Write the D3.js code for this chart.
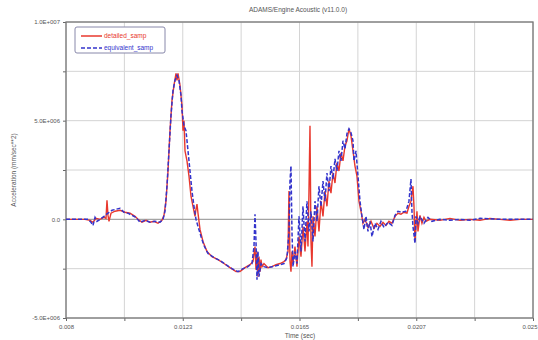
<!DOCTYPE html>
<html>
<head>
<meta charset="utf-8">
<script src="https://cdn.jsdelivr.net/npm/d3@7"></script>
<style>
  body { margin: 0; background: #fff; }
  text { font-family: "Liberation Sans", Arial, sans-serif; }
</style>
</head>
<body>
<script>
// time (sec), acceleration (mm/sec**2)
const detailedSamp = [
  [0.008000, 0], [0.008692, 0], [0.008874, -0.05e6], [0.008983, -0.15e6], [0.009092, 0.05e6],
  [0.009238, 0], [0.009383, 0.10e6], [0.009456, 0.05e6], [0.009492, 0.97e6], [0.009529, 0.20e6],
  [0.009565, -0.10e6], [0.009638, 0.31e6], [0.009784, 0.41e6], [0.009966, 0.46e6], [0.010148, 0.36e6],
  [0.010330, 0.31e6], [0.010512, 0.15e6], [0.010621, 0], [0.010766, -0.15e6], [0.010912, -0.05e6],
  [0.011058, -0.15e6], [0.011203, -0.10e6], [0.011349, -0.20e6], [0.011494, -0.05e6], [0.011567, 0.20e6],
  [0.011640, 0.92e6], [0.011713, 2.45e6], [0.011786, 4.49e6], [0.011858, 6.02e6], [0.011931, 6.79e6],
  [0.012004, 7.40e6], [0.012040, 7.04e6], [0.012077, 7.40e6], [0.012150, 6.79e6], [0.012222, 5.77e6],
  [0.012259, 4.49e6], [0.012295, 5.00e6], [0.012332, 3.47e6], [0.012404, 2.96e6], [0.012477, 2.19e6],
  [0.012550, 1.17e6], [0.012623, 0.66e6], [0.012696, 0.15e6], [0.012732, 0.51e6], [0.012768, 0.77e6],
  [0.012805, 0.31e6], [0.012878, -0.51e6], [0.012987, -1.12e6], [0.013132, -1.63e6], [0.013314, -1.89e6],
  [0.013533, -2.04e6], [0.013751, -2.24e6], [0.013970, -2.45e6], [0.014188, -2.65e6], [0.014334, -2.65e6],
  [0.014516, -2.45e6], [0.014698, -2.30e6], [0.014807, -2.14e6], [0.014880, -1.38e6], [0.014916, -2.55e6],
  [0.014952, -1.63e6], [0.014989, -2.91e6], [0.015025, -1.89e6], [0.015062, -2.65e6], [0.015098, -2.04e6],
  [0.015134, -2.40e6], [0.015207, -2.24e6], [0.015353, -2.45e6], [0.015498, -2.40e6], [0.015644, -2.30e6],
  [0.015790, -2.24e6], [0.015935, -2.14e6], [0.016008, -2.04e6], [0.016081, -1.63e6], [0.016117, 1.43e6],
  [0.016154, -2.14e6], [0.016190, -2.65e6], [0.016226, -1.63e6], [0.016263, -2.24e6], [0.016336, -1.38e6],
  [0.016408, -2.40e6], [0.016481, -0.87e6], [0.016554, -1.89e6], [0.016627, -0.36e6], [0.016700, -1.63e6],
  [0.016772, -0.10e6], [0.016809, -1.38e6], [0.016845, 1.43e6], [0.016882, 4.74e6], [0.016918, -1.12e6],
  [0.016954, -2.40e6], [0.016991, 0.15e6], [0.017064, -0.87e6], [0.017136, 0.66e6], [0.017209, -0.61e6],
  [0.017282, 0.92e6], [0.017355, 0.15e6], [0.017428, 1.43e6], [0.017500, 0.66e6], [0.017573, 1.94e6],
  [0.017646, 1.33e6], [0.017719, 2.35e6], [0.017792, 1.84e6], [0.017864, 2.86e6], [0.017937, 2.45e6],
  [0.018010, 3.37e6], [0.018083, 2.96e6], [0.018156, 3.72e6], [0.018228, 3.98e6], [0.018301, 4.59e6],
  [0.018374, 4.23e6], [0.018447, 3.47e6], [0.018520, 2.70e6], [0.018592, 2.19e6], [0.018665, 0.92e6],
  [0.018738, 0.41e6], [0.018811, -0.20e6], [0.018884, 0], [0.018993, -0.41e6], [0.019102, -0.10e6],
  [0.019211, -0.46e6], [0.019320, -0.20e6], [0.019430, -0.36e6], [0.019539, -0.15e6], [0.019648, -0.31e6],
  [0.019757, -0.10e6], [0.019866, -0.20e6], [0.019976, 0.15e6], [0.020085, 0.31e6], [0.020194, 0.26e6],
  [0.020303, 0.36e6], [0.020412, 0.31e6], [0.020485, 0.66e6], [0.020558, 0.92e6], [0.020631, 1.68e6],
  [0.020667, 0.66e6], [0.020704, -1.12e6], [0.020740, -0.36e6], [0.020776, 0.41e6], [0.020813, -0.61e6],
  [0.020886, 0.20e6], [0.020958, -0.20e6], [0.021031, 0.10e6], [0.021104, -0.10e6], [0.021250, 0],
  [0.021614, -0.05e6], [0.021978, 0.05e6], [0.022342, -0.05e6], [0.022706, 0], [0.023070, -0.05e6],
  [0.023434, 0.05e6], [0.023798, 0], [0.024162, -0.05e6], [0.024526, 0], [0.025000, 0]
];

const equivalentSamp = [
  [0.008000, 0], [0.008801, 0], [0.008910, -0.15e6], [0.008983, -0.31e6], [0.009056, 0.10e6],
  [0.009128, -0.10e6], [0.009238, 0], [0.009383, 0.15e6], [0.009529, 0.31e6], [0.009674, 0.46e6],
  [0.009820, 0.51e6], [0.009966, 0.56e6], [0.010111, 0.36e6], [0.010257, 0.31e6], [0.010402, 0.20e6],
  [0.010548, 0.10e6], [0.010694, -0.15e6], [0.010876, -0.05e6], [0.011058, -0.15e6], [0.011240, -0.10e6],
  [0.011422, -0.15e6], [0.011531, 0], [0.011604, 0.41e6], [0.011676, 1.68e6], [0.011749, 3.47e6],
  [0.011822, 5.26e6], [0.011895, 6.53e6], [0.011968, 7.04e6], [0.012040, 7.30e6], [0.012113, 7.04e6],
  [0.012186, 6.28e6], [0.012222, 5.51e6], [0.012295, 4.74e6], [0.012368, 4.49e6], [0.012441, 3.47e6],
  [0.012514, 2.45e6], [0.012586, 1.43e6], [0.012659, 0.66e6], [0.012732, 0], [0.012805, -0.36e6],
  [0.012914, -0.87e6], [0.013023, -1.33e6], [0.013169, -1.73e6], [0.013387, -1.94e6], [0.013606, -2.09e6],
  [0.013824, -2.30e6], [0.014042, -2.50e6], [0.014261, -2.65e6], [0.014443, -2.50e6], [0.014625, -2.40e6],
  [0.014770, -2.24e6], [0.014843, -1.38e6], [0.014880, 0.26e6], [0.014916, -1.12e6], [0.014952, -3.06e6],
  [0.014989, -1.63e6], [0.015025, -2.91e6], [0.015098, -2.24e6], [0.015207, -2.40e6], [0.015353, -2.45e6],
  [0.015498, -2.40e6], [0.015644, -2.35e6], [0.015790, -2.30e6], [0.015935, -2.24e6], [0.016044, -1.94e6],
  [0.016117, -0.61e6], [0.016154, 1.94e6], [0.016190, 2.70e6], [0.016226, -0.61e6], [0.016263, -2.40e6],
  [0.016336, -1.63e6], [0.016408, -2.24e6], [0.016481, 0.15e6], [0.016554, -1.63e6], [0.016627, 0.66e6],
  [0.016700, -1.12e6], [0.016772, 0.92e6], [0.016845, -0.61e6], [0.016918, 0.41e6], [0.016991, -1.12e6],
  [0.017064, 0.92e6], [0.017136, -0.10e6], [0.017209, 1.68e6], [0.017282, 0.66e6], [0.017355, 1.94e6],
  [0.017428, 0.92e6], [0.017500, 2.35e6], [0.017573, 1.43e6], [0.017646, 2.70e6], [0.017719, 2.04e6],
  [0.017792, 3.06e6], [0.017864, 2.45e6], [0.017937, 3.47e6], [0.018010, 2.96e6], [0.018083, 3.98e6],
  [0.018156, 3.57e6], [0.018228, 4.34e6], [0.018301, 4.59e6], [0.018374, 4.39e6], [0.018447, 3.98e6],
  [0.018483, 2.96e6], [0.018556, 3.47e6], [0.018629, 2.19e6], [0.018702, 0.92e6], [0.018774, 0.15e6],
  [0.018847, -0.51e6], [0.018920, 0.15e6], [0.018993, -0.61e6], [0.019066, -0.10e6], [0.019138, -0.87e6],
  [0.019248, -0.20e6], [0.019357, -0.51e6], [0.019466, -0.10e6], [0.019575, -0.41e6], [0.019721, -0.15e6],
  [0.019866, -0.31e6], [0.019976, 0.20e6], [0.020085, 0.41e6], [0.020230, 0.36e6], [0.020376, 0.41e6],
  [0.020485, 0.92e6], [0.020558, 2.04e6], [0.020594, 0.41e6], [0.020631, -0.36e6], [0.020704, -1.22e6],
  [0.020740, 0.15e6], [0.020813, -0.20e6], [0.020886, 0.15e6], [0.021031, -0.20e6], [0.021177, 0.10e6],
  [0.021322, -0.10e6], [0.021614, 0], [0.021978, -0.05e6], [0.022342, 0], [0.022706, -0.05e6],
  [0.023070, 0.05e6], [0.023798, 0], [0.025000, 0]
];

const xTicks = [0.008, 0.01225, 0.0165, 0.02075, 0.025];
const xTickLabels = ["0.008", "0.0123", "0.0165", "0.0207", "0.025"];
const yTicks = [-5e6, 0, 5e6, 1e7];
const yTickLabels = ["-5.0E+006", "0.0", "5.0E+006", "1.0E+007"];
const seriesNames = ["detailed_samp", "equivalent_samp"];

const width = 538;
const height = 340;
const margin = { top: 22, right: 5, bottom: 22, left: 66 };

const svg = d3.select("body").append("svg")
  .attr("width", width)
  .attr("height", height);

const x = d3.scaleLinear().domain([0.008, 0.025]).range([margin.left, width - margin.right]);
const y = d3.scaleLinear().domain([-5e6, 1e7]).range([height - margin.bottom, margin.top]);

// grid: every half label step
const xGrid = d3.range(9).map(i => 0.008 + i * 0.002125);
const yGrid = d3.range(7).map(i => -5e6 + i * 2.5e6);

svg.append("g").selectAll("line").data(xGrid).join("line")
  .attr("x1", d => x(d)).attr("x2", d => x(d))
  .attr("y1", margin.top).attr("y2", height - margin.bottom)
  .attr("stroke", "#d4d4d4").attr("stroke-width", 1);

svg.append("g").selectAll("line").data(yGrid).join("line")
  .attr("x1", margin.left).attr("x2", width - margin.right)
  .attr("y1", d => y(d)).attr("y2", d => y(d))
  .attr("stroke", "#d4d4d4").attr("stroke-width", 1);

// zero line a bit darker
svg.append("line")
  .attr("x1", margin.left).attr("x2", width - margin.right)
  .attr("y1", y(0)).attr("y2", y(0))
  .attr("stroke", "#999").attr("stroke-width", 1);

// axes
const xAxis = d3.axisBottom(x).tickValues(xGrid).tickSize(3).tickFormat(d => {
  const i = xTicks.findIndex(t => Math.abs(t - d) < 1e-9);
  return i >= 0 ? xTickLabels[i] : "";
});
const yAxis = d3.axisLeft(y).tickValues(yGrid).tickSize(3).tickFormat(d => {
  const i = yTicks.indexOf(d);
  return i >= 0 ? yTickLabels[i] : "";
});

const gx = svg.append("g")
  .attr("transform", `translate(0,${height - margin.bottom})`)
  .call(xAxis);
const gy = svg.append("g")
  .attr("transform", `translate(${margin.left},0)`)
  .call(yAxis);

[gx, gy].forEach(g => {
  g.select(".domain").remove();
  g.selectAll(".tick line").attr("stroke", "#666");
  g.selectAll(".tick text").attr("fill", "#555").style("font-size", "6px");
});
gx.selectAll(".tick text").attr("dy", "0.9em");
// keep the last label inside the window
gx.selectAll(".tick:last-of-type text").attr("text-anchor", "end").attr("x", 4);

// plot frame
svg.append("rect")
  .attr("x", margin.left).attr("y", margin.top)
  .attr("width", width - margin.left - margin.right)
  .attr("height", height - margin.top - margin.bottom)
  .attr("fill", "none").attr("stroke", "#777").attr("stroke-width", 1.3);

// curves
const line = d3.line().x(d => x(d[0])).y(d => y(d[1]));

svg.append("path")
  .datum(detailedSamp)
  .attr("d", line)
  .attr("fill", "none")
  .attr("stroke", "#e8382e")
  .attr("stroke-width", 1.4);

svg.append("path")
  .datum(equivalentSamp)
  .attr("d", line)
  .attr("fill", "none")
  .attr("stroke", "#3434cc")
  .attr("stroke-width", 1.5)
  .attr("stroke-dasharray", "4,2");

// titles
svg.append("text")
  .attr("x", 298).attr("y", 12)
  .attr("text-anchor", "middle")
  .attr("fill", "#555")
  .style("font-size", "6.5px")
  .text("ADAMS/Engine Acoustic (v11.0.0)");

svg.append("text")
  .attr("x", 300).attr("y", 338)
  .attr("text-anchor", "middle")
  .attr("fill", "#555")
  .style("font-size", "6.5px")
  .text("Time (sec)");

svg.append("text")
  .attr("transform", `translate(16,${(margin.top + height - margin.bottom) / 2}) rotate(-90)`)
  .attr("text-anchor", "middle")
  .attr("fill", "#555")
  .style("font-size", "6.5px")
  .text("Acceleration (mm/sec**2)");

// legend
const legend = svg.append("g").attr("transform", "translate(75,27)");
legend.append("rect")
  .attr("width", 90).attr("height", 26).attr("rx", 2)
  .attr("fill", "#fff").attr("stroke", "#8888aa").attr("stroke-width", 1);

const legendColors = ["#e8382e", "#3434cc"];
const legendDash = [null, "4,2"];
seriesNames.forEach((name, i) => {
  const yy = 9 + i * 12;
  legend.append("line")
    .attr("x1", 6).attr("x2", 27).attr("y1", yy).attr("y2", yy)
    .attr("stroke", legendColors[i]).attr("stroke-width", 1.5)
    .attr("stroke-dasharray", legendDash[i]);
  legend.append("text")
    .attr("x", 29).attr("y", yy + 2)
    .attr("fill", legendColors[i])
    .style("font-size", "6.5px")
    .text(name);
});
</script>
</body>
</html>
